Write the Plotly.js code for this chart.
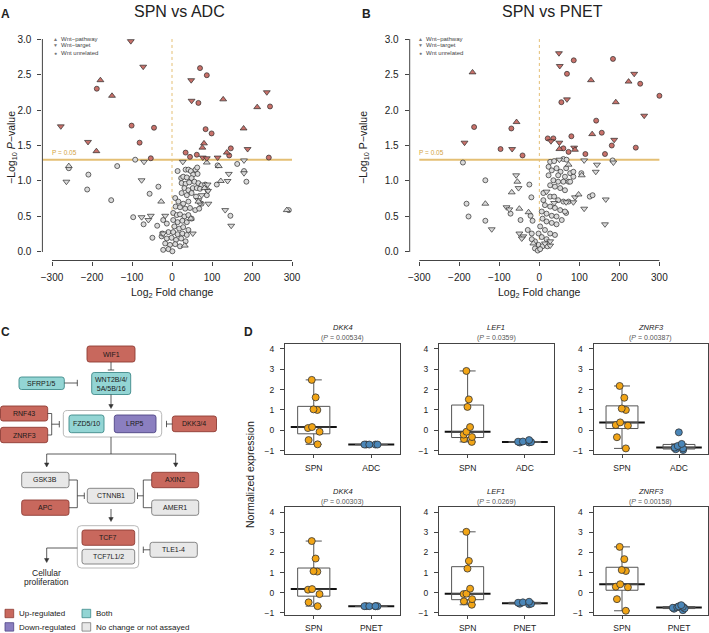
<!DOCTYPE html>
<html>
<head>
<meta charset="utf-8">
<script src="https://cdn.plot.ly/plotly-3.0.1.min.js"></script>
<style>
  html, body { margin: 0; padding: 0; background: #fff; }
  #chart { width: 709px; height: 633px; }
</style>
</head>
<body>
<div id="chart"></div>
<script>
// ---- volcano data: [log2 fold change, -log10 p] ----
const adcPathwaySig = [[-179,2.42],[-150,2.20],[-189,1.42],[128,2.15],[213,2.04],[179,1.74],[80,1.53],[76,1.47],[137,1.40]];
const adcTargetSig = [[-103,2.97],[-72,2.61],[-278,1.77],[-210,1.55],[48,2.42],[49,2.13],[237,2.25],[77,1.33],[87,1.32],[114,1.33],[189,1.45]];
const adcOtherSig = [[-188,2.30],[-101,1.78],[-45,1.75],[-81,1.54],[-53,1.32],[70,2.59],[87,2.49],[66,2.10],[245,2.05],[84,1.73],[99,1.67],[34,1.40],[45,1.34],[62,1.37],[147,1.46],[143,1.36],[242,1.33]];
const adcPathwayNs = [[-258,1.21],[-27,0.71],[87,1.26],[117,1.21],[122,1.00],[66,0.71],[81,0.90],[287,0.59],[47,0.47],[32,0.09]];
const adcTargetNs = [[-70,1.27],[-264,0.99],[-76,1.01],[-76,0.49],[-53,0.51],[-59,0.45],[-17,0.51],[27,1.27],[180,1.29],[180,1.11],[142,1.10],[139,1.00],[133,0.59],[148,0.37],[52,0.26],[91,0.68],[90,0.86],[89,0.95],[74,0.80],[-22,0.26],[66,0.73]];
const adcOtherNs = [[-92,1.30],[-258,1.18],[-137,1.21],[-209,1.09],[-34,0.92],[-212,0.88],[-56,0.82],[-152,0.73],[-97,0.49],[-71,0.39],[-22,0.45],[-37,0.37],[-49,0.20],
  [14,1.14],[114,1.22],[163,1.24],[180,1.14],[186,0.99],[112,0.95],[146,0.51],[292,0.59],
  [34,1.16],[41,1.16],[47,1.14],[59,1.16],[63,1.19],[53,1.09],[64,1.10],[23,1.04],[28,1.06],[37,1.05],[49,1.04],[24,0.97],[34,0.96],[43,0.98],[56,0.99],[66,0.97],[74,0.94],[83,0.95],
  [31,0.90],[41,0.87],[52,0.90],[62,0.90],[70,0.89],[89,0.87],[24,0.83],[37,0.80],[49,0.83],[60,0.78],[87,0.80],[8,0.76],[16,0.71],[28,0.68],[41,0.71],[74,0.68],
  [9,0.64],[20,0.63],[33,0.61],[45,0.62],[58,0.59],[68,0.61],[3,0.55],[12,0.52],[20,0.53],[31,0.50],[41,0.52],[49,0.47],[3,0.45],[14,0.42],[26,0.44],[37,0.42],
  [6,0.36],[18,0.33],[28,0.35],[41,0.31],[-9,0.28],[3,0.28],[14,0.25],[26,0.26],[37,0.24],[-26,0.22],[-13,0.19],[-1,0.20],[10,0.17],[23,0.19],[34,0.15],
  [-17,0.12],[-5,0.10],[8,0.11],[20,0.08],[-9,0.04],[1,0.01],[-22,0.03],[70,0.69],[-24,0.26],[-13,0.40]];

const pnetPathwaySig = [[-167,2.53],[-57,1.83],[129,2.42],[223,2.40],[191,2.11],[132,1.66],[50,1.45],[89,1.44]];
const pnetTargetSig = [[-187,1.54],[-68,1.45],[49,2.80],[51,2.62],[237,2.51],[69,2.15],[262,1.92],[187,1.58],[29,1.56],[50,1.54],[87,1.47]];
const pnetOtherSig = [[-163,1.76],[-70,1.74],[-97,1.45],[-42,1.36],[86,2.70],[69,2.51],[184,2.72],[252,2.37],[300,2.20],[55,2.11],[142,1.85],[156,1.68],[80,1.63],[181,1.50],[241,1.47],[164,1.38],[115,1.38],[21,1.60],[35,1.60],[60,1.46],[73,1.41]];
const pnetPathwayNs = [[-55,0.99],[-69,0.84],[-135,0.68],[-50,0.61],[-27,0.56],[106,1.08],[98,0.81],[73,1.23],[-15,0.12]];
const pnetTargetNs = [[-58,1.08],[-52,0.90],[-119,0.32],[-82,0.63],[-75,0.60],[-50,0.26],[-40,0.22],[-44,0.19],[112,1.29],[144,1.23],[141,1.13],[166,0.74],[112,0.61],[164,0.39],[185,1.26],[89,0.77],[85,0.70],[67,0.70],[27,0.09],[50,1.30],[18,0.85],[37,0.69],[27,0.15],[14,0.12]];
const pnetOtherNs = [[-191,1.26],[-135,1.01],[-25,0.95],[-20,0.77],[-182,0.68],[-177,0.50],[-135,0.44],[-72,0.54],[-47,0.45],[-22,0.51],[-17,0.44],[-29,0.31],[-19,0.26],[105,1.11],[126,0.78],[133,0.80],[183,1.29],[67,0.55],
  [27,1.27],[37,1.28],[60,1.31],[68,1.30],[23,1.20],[31,1.15],[43,1.18],[53,1.13],[67,1.18],[77,1.11],[85,1.06],[64,1.06],[47,1.08],[23,1.08],[35,1.01],[47,0.99],[60,0.99],[73,0.99],
  [27,0.94],[39,0.92],[52,0.90],[64,0.87],[10,0.83],[27,0.78],[37,0.78],[47,0.73],[60,0.71],[73,0.71],[10,0.73],[14,0.66],[27,0.64],[39,0.62],[52,0.59],[64,0.57],
  [6,0.57],[18,0.54],[31,0.51],[43,0.50],[56,0.45],[8,0.47],[18,0.43],[31,0.41],[43,0.39],[2,0.36],[14,0.31],[27,0.26],[39,0.24],[-2,0.26],[6,0.21],[18,0.18],
  [-11,0.15],[-2,0.10],[8,0.08],[20,0.08],[-11,0.05],[-4,0.02],[2,0.04],[-19,0.18],[85,1.13],[77,0.99]];

const volcanoTicks = [-300, -200, -100, 0, 100, 200, 300];
const pvalueTicks = [0, 0.5, 1, 1.5, 2, 2.5, 3];
const pCutoff = 1.301; // -log10(0.05)

// ---- box plot data (normalized expression) ----
const genes = ['DKK4', 'LEF1', 'ZNRF3'];
const pValuesAdc = ['0.00534', '0.0359', '0.00387'];
const pValuesPnet = ['0.00303', '0.0269', '0.00158'];
const spnVsAdc = [
  [2.48, 1.62, 1.03, 1.0, 0.16, 0.11, -0.07, -0.48, -0.69],
  [2.92, 1.52, 1.15, 0.16, -0.07, -0.33, -0.21, -0.43, -0.57],
  [2.18, 1.6, 1.07, 1.0, 0.26, 0.39, 0.23, -0.34, -0.89]
];
const adcValues = [
  [-0.7, -0.7, -0.7, -0.7, -0.7],
  [-0.6, -0.56, -0.55, -0.6, -0.48, -0.58],
  [-0.1, -0.67, -0.89, -0.93, -0.97, -0.77, -0.85]
];
const spnVsPnet = [
  [2.57, 1.7, 1.07, 1.05, 0.18, 0.15, -0.07, -0.48, -0.67],
  [3.03, 1.58, 1.2, 0.2, -0.07, -0.05, -0.32, -0.43, -0.6],
  [2.28, 1.67, 1.08, 1.13, 0.27, 0.42, 0.3, -0.32, -0.9]
];
const pnetValues = [
  [-0.67, -0.67, -0.67, -0.67, -0.67, -0.67],
  [-0.45, -0.5, -0.55, -0.48, -0.58, -0.55],
  [-0.72, -0.68, -0.62, -0.75, -0.8, -0.87, -0.78, -0.7]
];

// ---- page geometry helpers (pixels -> paper) ----
const W = 709, H = 633;
const X = v => v / W;
const Y = v => 1 - v / H;
const domX = (a, b) => [X(a), X(b)];
const domY = (top, bottom) => [Y(bottom), Y(top)];

const RED = '#c9716a', GREY = '#dadada', EDGE = '#2b2b2b';
const GOLD = '#e4bf74';
const ORANGE = '#f2a516', BLUE = '#4a86b8';

function volcanoTrace(pts, symbol, fill, size, xa, ya) {
  return {
    type: 'scatter', mode: 'markers',
    x: pts.map(p => p[0]), y: pts.map(p => p[1]),
    xaxis: xa, yaxis: ya, hoverinfo: 'skip', cliponaxis: false,
    marker: { symbol: symbol, size: size, color: fill, line: { color: EDGE, width: 0.7 } }
  };
}

function volcanoSet(sets, xa, ya) {
  return [
    volcanoTrace(sets[3], 'circle', GREY, 5, xa, ya),
    volcanoTrace(sets[4], 'triangle-down', GREY, 6, xa, ya),
    volcanoTrace(sets[5], 'triangle-up', GREY, 6, xa, ya),
    volcanoTrace(sets[2], 'circle', RED, 5, xa, ya),
    volcanoTrace(sets[1], 'triangle-down', RED, 6, xa, ya),
    volcanoTrace(sets[0], 'triangle-up', RED, 6, xa, ya)
  ];
}

function boxTrace(vals, cat, color, n) {
  return {
    type: 'box', y: vals, x: vals.map(() => cat),
    xaxis: 'x' + n, yaxis: 'y' + n,
    boxpoints: 'all', jitter: 0.5, pointpos: 0, whiskerwidth: 0.5,
    fillcolor: 'rgba(255,255,255,0)', line: { color: '#555', width: 1 },
    marker: { color: color, size: 7, line: { color: '#333', width: 0.8 } },
    hoverinfo: 'skip'
  };
}

function median(vals) {
  const s = vals.slice().sort((a, b) => a - b);
  const m = Math.floor(s.length / 2);
  return s.length % 2 ? s[m] : (s[m - 1] + s[m]) / 2;
}

const traces = [
  ...volcanoSet([adcPathwaySig, adcTargetSig, adcOtherSig, adcOtherNs, adcTargetNs, adcPathwayNs], 'x', 'y'),
  ...volcanoSet([pnetPathwaySig, pnetTargetSig, pnetOtherSig, pnetOtherNs, pnetTargetNs, pnetPathwayNs], 'x2', 'y2')
];
genes.forEach((g, i) => {
  traces.push(boxTrace(spnVsAdc[i], 'SPN', ORANGE, i + 3));
  traces.push(boxTrace(adcValues[i], 'ADC', BLUE, i + 3));
  traces.push(boxTrace(spnVsPnet[i], 'SPN', ORANGE, i + 6));
  traces.push(boxTrace(pnetValues[i], 'PNET', BLUE, i + 6));
});

// ---- axes ----
const FONT = 'Liberation Sans, Arial, sans-serif';
function volcanoX(dom, anchor) {
  return { domain: dom, anchor: anchor, range: [-324, 324], tickvals: volcanoTicks,
    ticks: 'outside', ticklen: 4, tickcolor: '#444', showline: false, showgrid: false,
    zeroline: false, tickfont: { size: 10, color: '#222' }, ticklabelstandoff: 3 };
}
function volcanoY(dom, anchor) {
  return { domain: dom, anchor: anchor, range: [-0.12, 3.12], tickvals: pvalueTicks,
    tickformat: '.1f', ticks: 'outside', ticklen: 4, tickcolor: '#444', showline: false,
    showgrid: false, zeroline: false, tickfont: { size: 10, color: '#222' }, ticklabelstandoff: 4 };
}
const colsD = [[285, 400], [439, 553.5], [593.5, 707.5]];
const rowsD = [{ top: 344.3, bottom: 454.3, range: [-1.18, 4.23] }, { top: 506.7, bottom: 615, range: [-1.11, 4.28] }];

const layout = {
  width: W, height: H, margin: { l: 0, r: 0, t: 0, b: 0 },
  paper_bgcolor: '#fff', plot_bgcolor: 'rgba(0,0,0,0)',
  showlegend: false, boxmode: 'overlay', boxgap: 0.2,
  font: { family: FONT, color: '#222' },
  xaxis: volcanoX(domX(42.4, 301.6), 'y'),
  yaxis: volcanoY(domY(30.5, 260.5), 'x'),
  xaxis2: volcanoX(domX(409.7, 669), 'y2'),
  yaxis2: volcanoY(domY(30.5, 260.5), 'x2'),
  shapes: [], annotations: []
};

for (let r = 0; r < 2; r++) {
  for (let c = 0; c < 3; c++) {
    const n = 3 + r * 3 + c;
    layout['xaxis' + n] = { domain: domX(colsD[c][0], colsD[c][1]), anchor: 'y' + n,
      type: 'category', range: [-0.5, 1.5], showline: true, mirror: true, linecolor: '#444',
      linewidth: 1, ticks: 'outside', ticklen: 3, tickcolor: '#444', showgrid: false,
      zeroline: false, tickfont: { size: 8.5, color: '#222' }, ticklabelstandoff: 2 };
    layout['yaxis' + n] = { domain: domY(rowsD[r].top, rowsD[r].bottom), anchor: 'x' + n,
      range: rowsD[r].range, tickvals: [-1, 0, 1, 2, 3, 4], showline: true, mirror: true,
      linecolor: '#444', linewidth: 1, ticks: 'outside', ticklen: 4, tickcolor: '#444',
      showgrid: false, zeroline: false, tickfont: { size: 8.5, color: '#222' }, ticklabelstandoff: 4 };
  }
}

const shapes = layout.shapes, anns = layout.annotations;

// thick median bars like R's boxplot, kept under the points
genes.forEach((g, i) => {
  [[spnVsAdc[i], 0, i + 3], [adcValues[i], 1, i + 3], [spnVsPnet[i], 0, i + 6], [pnetValues[i], 1, i + 6]].forEach(([vals, idx, n]) => {
    const m = median(vals);
    shapes.push({ type: 'line', xref: 'x' + n, yref: 'y' + n, x0: idx - 0.4, x1: idx + 0.4, y0: m, y1: m,
      layer: 'below', line: { color: '#111', width: 2 } });
  });
});

// volcano decorations: R-style axis lines, cutoff and zero line
[['x', 'y', -324], ['x2', 'y2', -300]].forEach(([xa, ya, lineStart]) => {
  shapes.push({ type: 'line', xref: xa, yref: ya + ' domain', x0: -300, x1: 300, y0: 0, y1: 0, line: { color: '#444', width: 1 } });
  shapes.push({ type: 'line', xref: xa + ' domain', yref: ya, x0: 0, x1: 0, y0: 0, y1: 3, line: { color: '#444', width: 1 } });
  shapes.push({ type: 'line', xref: xa, yref: ya, x0: lineStart, x1: 300, y0: pCutoff, y1: pCutoff, layer: 'below', line: { color: GOLD, width: 2 } });
  shapes.push({ type: 'line', xref: xa, yref: ya, x0: 0, x1: 0, y0: 0, y1: 3, layer: 'below', line: { color: GOLD, width: 1, dash: 'dot' } });
});

function ann(x, y, text, size, extra) {
  anns.push(Object.assign({ xref: 'paper', yref: 'paper', x: X(x), y: Y(y), text: text,
    showarrow: false, font: { size: size, color: '#222', family: FONT },
    xanchor: 'center', yanchor: 'middle' }, extra || {}));
}

// panel letters and titles
ann(5.5, 13.5, '<b>A</b>', 12);
ann(366, 13.5, '<b>B</b>', 12);
ann(5.5, 332, '<b>C</b>', 12);
ann(248.5, 332, '<b>D</b>', 12);
ann(179, 11.5, 'SPN vs ADC', 16);
ann(552, 11.5, 'SPN vs PNET', 16);
ann(172, 293, 'Log<sub>2</sub> Fold change', 10.5);
ann(539.3, 293, 'Log<sub>2</sub> Fold change', 10.5);
ann(12, 148, '\u2212Log<sub>10</sub> <i>P</i>\u2212value', 10.5, { textangle: -90 });
ann(364, 148, '\u2212Log<sub>10</sub> P\u2212value', 10.5, { textangle: -90 });
ann(50, 152.5, 'P = 0.05', 6.5, { xanchor: 'left', font: { size: 6.5, color: '#d2a445', family: FONT } });
ann(416.5, 152.5, 'P = 0.05', 6.5, { xanchor: 'left', font: { size: 6.5, color: '#d2a445', family: FONT } });

// volcano legends
const legendRows = [['\u25B2', 'Wnt\u2212pathway'], ['\u25BC', 'Wnt\u2212target'], ['\u25CF', 'Wnt unrelated']];
[[55, 58.5], [420.7, 424.5]].forEach(([sx, tx]) => {
  legendRows.forEach(([sym, label], i) => {
    const yy = 38.5 + i * 7;
    ann(sx, yy, sym, 5, { font: { size: 5, color: '#777', family: FONT } });
    ann(tx, yy, label, 6, { xanchor: 'left', font: { size: 6, color: '#444', family: FONT } });
  });
});

// box plot headings
genes.forEach((g, i) => {
  const cx = (colsD[i][0] + colsD[i][1]) / 2;
  ann(cx, 328, '<i>' + g + '</i>', 7.5);
  ann(cx, 338, '(<i>P</i> = ' + pValuesAdc[i] + ')', 7, { font: { size: 7, color: '#555', family: FONT } });
  ann(cx, 491.5, '<i>' + g + '</i>', 7.5);
  ann(cx, 501.5, '(<i>P</i> = ' + pValuesPnet[i] + ')', 7, { font: { size: 7, color: '#555', family: FONT } });
});
ann(250, 475, 'Normalized expression', 10.5, { textangle: -90 });

// ---- panel C: pathway diagram ----
const C_RED = ['#c8685d', '#8e3c34'], C_CYAN = ['#93d5d4', '#3f8a8a'];
const C_PURPLE = ['#8b7fc0', '#4e4585'], C_GREY = ['#e8e8e8', '#7a7a7a'], C_GROUP = ['#ffffff', '#b0b0b0'];
const p = (x, y) => X(x) + ',' + Y(y);

function rrect(x0, y0, x1, y1, col, r) {
  r = r || 2.5;
  const path = 'M' + p(x0 + r, y0) + ' L' + p(x1 - r, y0) + ' Q' + p(x1, y0) + ' ' + p(x1, y0 + r) +
    ' L' + p(x1, y1 - r) + ' Q' + p(x1, y1) + ' ' + p(x1 - r, y1) + ' L' + p(x0 + r, y1) +
    ' Q' + p(x0, y1) + ' ' + p(x0, y1 - r) + ' L' + p(x0, y0 + r) + ' Q' + p(x0, y0) + ' ' + p(x0 + r, y0) + ' Z';
  shapes.push({ type: 'path', xref: 'paper', yref: 'paper', path: path, fillcolor: col[0], line: { color: col[1], width: 0.9 } });
}
function node(x0, y0, x1, y1, col, label) {
  rrect(x0, y0, x1, y1, col);
  ann((x0 + x1) / 2, (y0 + y1) / 2, label, 7, { font: { size: 7, color: '#1a1a1a', family: FONT } });
}
function seg(x0, y0, x1, y1) {
  shapes.push({ type: 'line', xref: 'paper', yref: 'paper', x0: X(x0), y0: Y(y0), x1: X(x1), y1: Y(y1), line: { color: '#333', width: 0.8 } });
}
// vertical downward arrow: shaft plus a small filled head
function arrowDown(x, y0, y1) {
  seg(x, y0, x, y1 - 3);
  shapes.push({ type: 'path', xref: 'paper', yref: 'paper',
    path: 'M' + p(x - 2.2, y1 - 4) + ' L' + p(x + 2.2, y1 - 4) + ' L' + p(x, y1) + ' Z',
    fillcolor: '#333', line: { color: '#333', width: 0.5 } });
}
const tbarV = (x, y) => seg(x, y - 3.2, x, y + 3.2);
const tbarH = (x, y) => seg(x - 3.2, y, x + 3.2, y);

// groups first so member boxes sit on top
rrect(63.3, 410.5, 161.7, 437, C_GROUP, 4);
rrect(77.3, 525.7, 138.7, 568, C_GROUP, 4);

node(87, 346, 135, 362, C_RED, 'WIF1');
node(91.7, 372.5, 130.7, 394.5, C_CYAN, 'WNT2B/4/<br>5A/5B/16');
node(19, 377, 64.3, 389.5, C_CYAN, 'SFRP1/5');
node(69, 415, 104, 432.7, C_CYAN, 'FZD5/10');
node(114.3, 415, 156, 432.7, C_PURPLE, 'LRP5');
node(0.5, 406, 47.7, 421, C_RED, 'RNF43');
node(0.5, 427.3, 47.7, 442.7, C_RED, 'ZNRF3');
node(172.3, 416, 216.5, 431.7, C_RED, 'DKK3/4');
node(21.7, 472.3, 69, 487.7, C_GREY, 'GSK3B');
node(21.7, 500, 69, 515.3, C_RED, 'APC');
node(87.3, 488.3, 134.7, 503.3, C_GREY, 'CTNNB1');
node(151.7, 472.3, 198.7, 487.7, C_RED, 'AXIN2');
node(151.7, 500, 198.7, 515.3, C_GREY, 'AMER1');
node(82, 530, 134.7, 545.3, C_RED, 'TCF7');
node(82, 549.3, 134.7, 564, C_GREY, 'TCF7L1/2');
node(150, 542.3, 197.3, 557.3, C_GREY, 'TLE1-4');

// connectors
seg(111, 362, 111, 370); tbarH(111, 370);
seg(64.3, 383, 77.3, 383); tbarV(77.3, 383);
arrowDown(111, 394.5, 408.5);
seg(47.7, 413.5, 51.7, 413.5); seg(47.7, 435, 51.7, 435); seg(51.7, 413.5, 51.7, 435);
seg(51.7, 424.2, 59.3, 424.2); tbarV(59.3, 424.2);
seg(172.3, 424, 166.5, 424); tbarV(166.5, 424);
seg(111, 437, 111, 454); seg(46.7, 454, 175.7, 454);
arrowDown(46.7, 454, 467); arrowDown(175.7, 454, 467);
seg(69, 480, 77.3, 480); seg(69, 507.7, 77.3, 507.7); seg(77.3, 480, 77.3, 507.7);
seg(77.3, 495.8, 84.3, 495.8); tbarV(84.3, 495.8);
seg(151.7, 480, 143.3, 480); seg(151.7, 507.7, 143.3, 507.7); seg(143.3, 480, 143.3, 507.7);
seg(143.3, 495.8, 137.5, 495.8); tbarV(137.5, 495.8);
arrowDown(111, 509, 521.5);
seg(150, 549.8, 143.3, 549.8); tbarV(143.3, 549.8);
seg(77.3, 548, 46.7, 548); arrowDown(46.7, 548, 562.5);
ann(46.7, 572.7, 'Cellular', 8.5);
ann(46.7, 582.3, 'proliferation', 8.5);

// colour legend
const legendItems = [[5, 609.3, C_RED, 'Up-regulated'], [82, 609.3, C_CYAN, 'Both'],
  [5, 622.7, C_PURPLE, 'Down-regulated'], [82, 622.7, C_GREY, 'No change or not assayed']];
legendItems.forEach(([lx, ly, col, label]) => {
  shapes.push({ type: 'rect', xref: 'paper', yref: 'paper', x0: X(lx), x1: X(lx + 8.7), y0: Y(ly), y1: Y(ly + 8.4),
    fillcolor: col[0], line: { color: col[1], width: 0.8 } });
  ann(lx + 12, ly + 4.4, label, 8, { xanchor: 'left' });
});

Plotly.newPlot('chart', traces, layout, { staticPlot: true, displayModeBar: false });
</script>
</body>
</html>
